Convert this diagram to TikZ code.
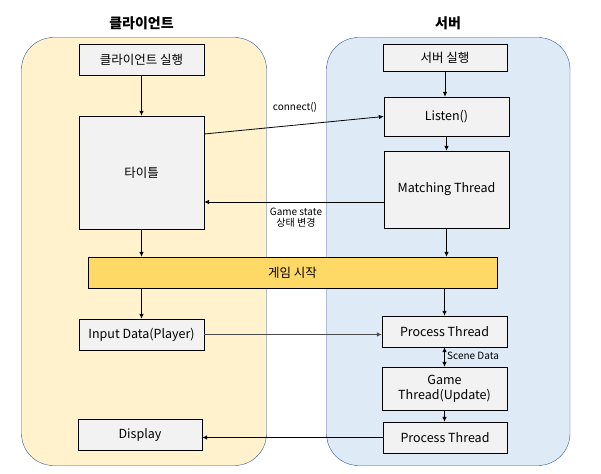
\documentclass[tikz,border=0pt]{standalone}
\usepackage{fontspec}
\setmainfont{Noto Sans CJK KR}
\usetikzlibrary{arrows.meta}
\definecolor{clientfill}{HTML}{FFF2CC}
\definecolor{serverfill}{HTML}{DEEBF7}
\definecolor{frameblue}{HTML}{2F5597}
\definecolor{boxgray}{HTML}{F2F2F2}
\definecolor{startfill}{HTML}{FFD966}
\tikzset{
	box/.style={draw, fill=boxgray, inner sep=1pt, align=center, font=\fontsize{12.5}{15}\selectfont},
	lbl/.style={inner sep=0, align=center, font=\fontsize{10}{11.5}\selectfont},
	flow/.style={-{Latex[length=5pt,width=4.5pt]}, line width=0.8pt}
}
\begin{document}
\begin{tikzpicture}[x=1pt,y=-1pt]
		\useasboundingbox (0,0) rectangle (601,473);
		\draw [draw=frameblue, fill=clientfill, rounded corners=32pt] (21.5,37.5) rectangle (266.5,465.5);
		\draw [draw=frameblue, fill=serverfill, rounded corners=32pt] (326.5,37.5) rectangle (570,465.5);
		\node [font=\bfseries\fontsize{14}{16}\selectfont] (clientT) at (141.5,23) {클라이언트};
		\node [font=\bfseries\fontsize{14}{16}\selectfont] (serverT) at (448,23) {서버};
		% client side
		\node [box, minimum width=125, minimum height=31] (runC) at (141.5,59.5) {클라이언트 실행};
		\node [box, minimum width=125, minimum height=113] (title) at (141.5,172.5) {타이틀};
		\node [box, fill=startfill, minimum width=409, minimum height=31] (start) at (292.5,272.5) {게임 시작};
		\node [box, minimum width=125, minimum height=31] (input) at (141.5,334.5) {Input Data(Player)};
		\node [box, minimum width=124, minimum height=31] (display) at (140,434.5) {Display};
		% server side
		\node [box, minimum width=124, minimum height=27] (runS) at (445,57.5) {서버 실행};
		\node [box, minimum width=125, minimum height=39] (listen) at (446.5,116.5) {Listen()};
		\node [box, minimum width=125, minimum height=77] (match) at (446.5,189.5) {Matching Thread};
		\node [box, minimum width=125, minimum height=31] (proc1) at (444.5,331.5) {Process Thread};
		\node [box, minimum width=125, minimum height=43] (game) at (444.5,388.5) {Game\\Thread(Update)};
		\node [box, minimum width=124, minimum height=31] (proc2) at (445,437.5) {Process Thread};
		% labels
		\node [lbl] (conL) at (295,107) {connect()};
		\node [lbl] (stateL) at (296,217.5) {Game state\\상태 변경};
		\node [lbl, anchor=west] (sceneL) at (447,356) {Scene Data};
		% connectors
		\draw [flow] (runC) -- (title);
		\draw [flow] (title.south) -- (title.south |- start.north);
		\draw [flow] (input.north |- start.south) -- (input.north);
		\draw [flow] (title.east |- 0,134) -- (listen.west);
		\draw [flow] (match.west |- 0,202) -- (title.east |- 0,202);
		\draw [flow] (runS) -- (runS |- listen.north);
		\draw [flow] (listen.south) -- (match.north);
		\draw [flow] (match.south) -- (match.south |- start.north);
		\draw [flow] (proc1.north |- start.south) -- (proc1.north);
		\draw [flow, draw=black!70] (input.east) -- (input.east -| proc1.west);
		\draw [flow, {Latex[length=5pt,width=4.5pt]}-{Latex[length=5pt,width=4.5pt]}] (proc1.south) -- (game.north);
		\draw [flow] (game.south) -- (game.south |- proc2.north);
		\draw [flow] (proc2.west) -- (proc2.west -| display.east);
\end{tikzpicture}
\end{document}
